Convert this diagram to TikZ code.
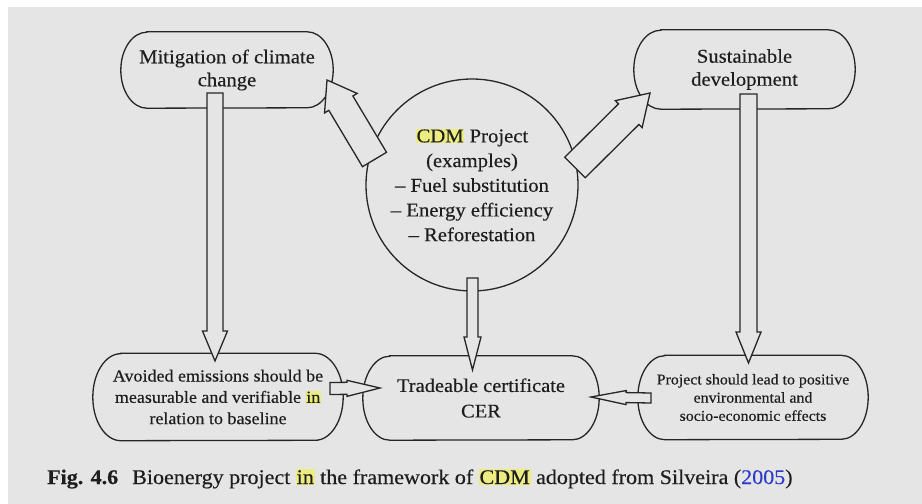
\documentclass[tikz,border=0pt]{standalone}
\usepackage{fontspec}
\setmainfont{Liberation Serif}[FakeStretch=1.06,FakeBold=0.35]
\usetikzlibrary{calc}
\definecolor{bgc}{RGB}{229,229,229}
\definecolor{ln}{RGB}{38,38,38}
\definecolor{txt}{RGB}{30,30,30}
\definecolor{hly}{RGB}{236,236,128}
\definecolor{refblue}{RGB}{45,60,200}
\newcommand\hlt[1]{{\setlength{\fboxsep}{0.8pt}\colorbox{hly}{#1}}}
% block arrow: from, to, shaft half width, head half width, head length
\newcommand\blockarr[5]{%
  \path ($(#2)!#5!(#1)$) coordinate (tmpH);
  \draw[barrow] ($(#1)!#3!90:(#2)$) -- ($(tmpH)!#3!90:(#2)$) -- ($(tmpH)!#4!90:(#2)$)
    -- (#2) -- ($(tmpH)!#4!-90:(#2)$) -- ($(tmpH)!#3!-90:(#2)$) -- ($(#1)!#3!-90:(#2)$) -- cycle;}
% pill outline round a node: name, end x radius, half height, vertical shift
\newcommand\pillout[4]{%
  \draw[pillline, yshift=#4] ([xshift=#2]#1.north west) -- ([xshift=-#2]#1.north east)
    arc[start angle=90, end angle=-90, x radius=#2, y radius=#3]
    -- ([xshift=#2]#1.south west)
    arc[start angle=270, end angle=90, x radius=#2, y radius=#3] -- cycle;}
\tikzset{
  pill/.style={rectangle, inner sep=0pt, align=center, text=txt},
  pillline/.style={draw=ln, line width=1.3bp},
  barrow/.style={draw=ln, fill=bgc, line width=1.3bp, line join=miter},
}
\begin{document}
\begin{tikzpicture}[x=1bp,y=-1bp]
\useasboundingbox (0,0) rectangle (922,504);
\fill[bgc] (8,7) rectangle (922,504);

\node[pill, minimum width=212bp, minimum height=76bp, font=\fontsize{19.5bp}{23bp}\selectfont]
  (mit) at (227,70) {Mitigation of climate\\change};
\node[pill, minimum width=221bp, minimum height=79bp, font=\fontsize{19.5bp}{23bp}\selectfont]
  (sus) at (744.5,69.5) {Sustainable\\development};
\node[circle, draw=ln, line width=1.3bp, minimum size=212bp, inner sep=0pt, align=center, text=txt,
  font=\fontsize{19.5bp}{24.7bp}\selectfont]
  (cdm) at (472,185) {\hlt{CDM} Project\\(examples)\\– Fuel substitution\\– Energy efficiency\\– Reforestation};
\node[pill, minimum width=250bp, minimum height=87bp, font=\fontsize{17bp}{21.3bp}\selectfont]
  (avo) at (218,397) {Avoided emissions should be\\measurable and verifiable \hlt{in}\\relation to baseline};
\node[pill, minimum width=236bp, minimum height=84bp, font=\fontsize{19.3bp}{25.5bp}\selectfont]
  (tra) at (481,398) {Tradeable certificate\\CER};
\node[pill, minimum width=230bp, minimum height=84bp, font=\fontsize{15bp}{18.2bp}\selectfont]
  (pro) at (753,397.5) {Project should lead to positive\\environmental and\\socio-economic effects};

\pillout{mit}{26bp}{38bp}{4bp}
\pillout{sus}{27bp}{39.5bp}{3bp}
\pillout{avo}{28bp}{43.5bp}{0.5bp}
\pillout{tra}{27bp}{42bp}{1bp}
\pillout{pro}{27bp}{42bp}{0.5bp}

% arrow end points
\coordinate (a1s) at (215,93);    \coordinate (a1e) at (215,361);
\coordinate (a2s) at (748.5,94);  \coordinate (a2e) at (748.5,363);
\coordinate (a3s) at (472.5,278); \coordinate (a3e) at (472.5,370);
\coordinate (a4s) at (330,388.5); \coordinate (a4e) at (380,388);
\coordinate (a5s) at (651,398);   \coordinate (a5e) at (591,397);
\coordinate (a6s) at (374.5,159.5); \coordinate (a6e) at (327,80);
\coordinate (a7s) at (575,167.5); \coordinate (a7e) at (650,93);

\blockarr{a1s}{a1e}{8bp}{12.5bp}{30bp}
\blockarr{a2s}{a2e}{8.5bp}{12.5bp}{31bp}
\blockarr{a3s}{a3e}{5.5bp}{8.5bp}{33bp}
\blockarr{a4s}{a4e}{6bp}{8bp}{33bp}
\blockarr{a5s}{a5e}{5bp}{7bp}{35bp}
\blockarr{a6s}{a6e}{14bp}{19bp}{27bp}
\blockarr{a7s}{a7e}{14.5bp}{19bp}{30bp}

\node[anchor=base west, inner sep=0pt, text=txt, font=\fontsize{20.8bp}{24bp}\selectfont]
  (cap) at (47,484) {\textbf{Fig. 4.6}\hspace{14bp}Bioenergy project \hlt{in} the framework of \hlt{CDM} adopted from Silveira (\textcolor{refblue}{2005})};
\end{tikzpicture}
\end{document}
